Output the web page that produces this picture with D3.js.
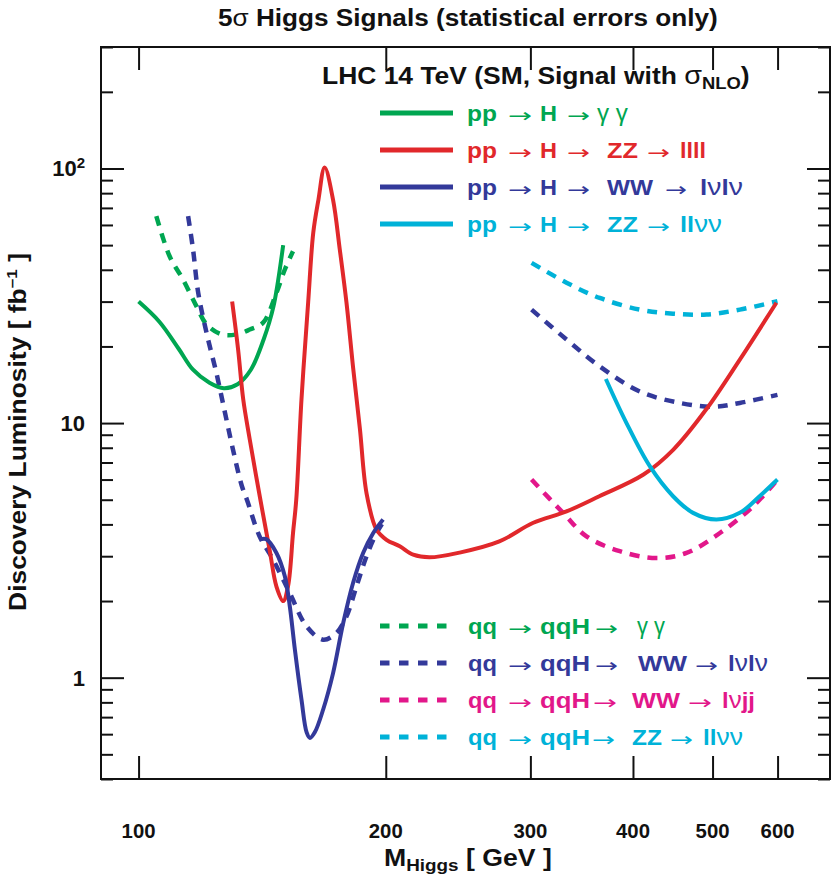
<!DOCTYPE html>
<html>
<head>
<meta charset="utf-8">
<script src="https://cdn.jsdelivr.net/npm/d3@7"></script>
<style>
  html,body{margin:0;padding:0;background:#fff;}
  svg{display:block;}
  svg{font-family:"Liberation Sans",Arial,Helvetica,sans-serif;}
</style>
</head>
<body>
<svg id="chart" width="831" height="879"></svg>
<script>
// ---------------- DATA ----------------
// [Higgs mass (GeV), discovery luminosity (fb^-1)]
const ppGammaGamma   = [[100,30],[106,25],[112,19.5],[116.5,16.2],[122,14.4],[127,13.7],[132,14.2],[137,16.2],[142,21.3],[146,28.8],[150,50]];
const ppZZ4l         = [[130,30],[132.2,19.4],[134.1,12.4],[136.6,8.6],[140.4,5.2],[144.4,3.18],[147.2,2.28],[150,2.0],[152.1,2.3],[154.2,3.7],[155.6,5.0],[157.9,12.4],[160.9,29.9],[163.2,55.9],[165.6,75.5],[168.5,101],[172.5,75.5],[175.8,48.1],[179.1,29.9],[182.5,16.5],[186,9.5],[189.5,5.3],[194.9,3.81],[200.4,3.48],[208,3.28],[216,3.04],[226,2.97],[246,3.1],[275,3.43],[302,4.05],[332,4.5],[364,5.16],[412,6.28],[448,7.87],[491,11.3],[540,17.8],[598,29.7]];
const ppWWlvlv       = [[141,3.5],[143,3.5],[147.2,3.09],[150.7,2.5],[152.8,1.91],[155,1.29],[157.9,0.82],[160.2,0.61],[161.7,0.58],[163.9,0.61],[167.8,0.75],[172.5,1.04],[177.5,1.64],[182.5,2.36],[187.7,3.09],[193.1,3.7],[198.5,4.18]];
const ppZZllvv       = [[370.7,14.9],[392.8,10.0],[419.3,6.77],[447.6,5.16],[473.4,4.44],[505.4,4.18],[539.7,4.44],[570.5,5.16],[599.8,6.0]];

const qqGammaGamma   = [[105.1,65],[109.1,45.2],[113.3,36.6],[117.6,28.8],[121,24.4],[126.2,22.3],[131.6,22.3],[136.6,23.3],[141.8,24.8],[147.2,32.5],[150.7,40.1],[154.2,47.3]];
const qqWWlvlvLow    = [[114.9,65],[116.5,48.1],[118.2,32.5],[121,22.6],[124.4,15.7],[127.4,11.0],[130.3,7.87],[133.5,5.7],[135.5,5.0],[140.4,3.59],[145.8,2.91],[152.8,2.15],[160.2,1.59],[167.8,1.41],[174.2,1.5],[179.1,1.74],[184.2,2.28],[189.5,3.0],[194.9,3.7],[199.5,4.18]];
const qqWWlvlvHigh   = [[301,27.9],[332,21.3],[364.4,16.7],[407.8,13.3],[456,12.0],[500.7,11.6],[539.7,12.0],[599.8,12.9]];
const qqWWlvjj       = [[301,6.0],[328.8,4.44],[351.1,3.59],[385.5,3.14],[427.2,2.95],[464.8,3.09],[510.4,3.7],[560.2,4.71],[599.8,6.0]];
const qqZZllvv       = [[301,42.6],[332,35.6],[364.4,31.0],[407.8,27.9],[447.6,26.9],[491.5,26.7],[539.7,27.9],[599.8,30.1]];

const xTickValues   = [100,200,300,400,500,600];
const yMajorValues  = [1,10,100];
const yMinorValues  = [0.4,0.5,0.6,0.7,0.8,0.9,2,3,4,5,6,7,8,9,20,30,40,50,60,70,80,90,200,300];

// legend entries: each token = list of [string, bold?]; "→" tokens are arrows
const legendSolidLabels = [
  [[["pp",1]],[["\u2192",0]],[["H",1]],[["\u2192",0]],[["\u03b3 \u03b3",0]]],
  [[["pp",1]],[["\u2192",0]],[["H",1]],[["\u2192",0]],[["ZZ",1]],[["\u2192",0]],[["llll",1]]],
  [[["pp",1]],[["\u2192",0]],[["H",1]],[["\u2192",0]],[["WW",1]],[["\u2192",0]],[["l",1],["\u03bd",0],["l",1],["\u03bd",0]]],
  [[["pp",1]],[["\u2192",0]],[["H",1]],[["\u2192",0]],[["ZZ",1]],[["\u2192",0]],[["ll",1],["\u03bd\u03bd",0]]]
];
const legendDashedLabels = [
  [[["qq",1]],[["\u2192",0]],[["qqH",1]],[["\u2192",0]],[["\u03b3 \u03b3",0]]],
  [[["qq",1]],[["\u2192",0]],[["qqH",1]],[["\u2192",0]],[["WW",1]],[["\u2192",0]],[["l",1],["\u03bd",0],["l",1],["\u03bd",0]]],
  [[["qq",1]],[["\u2192",0]],[["qqH",1]],[["\u2192",0]],[["WW",1]],[["\u2192",0]],[["l",1],["\u03bd",0],["jj",1]]],
  [[["qq",1]],[["\u2192",0]],[["qqH",1]],[["\u2192",0]],[["ZZ",1]],[["\u2192",0]],[["ll",1],["\u03bd\u03bd",0]]]
];

const COL = {green:"#00a651", red:"#e1282b", blue:"#33399a", cyan:"#00b2d8", magenta:"#e2178a"};

const solidSeries = [
  {data:ppGammaGamma, color:COL.green},
  {data:ppZZ4l, color:COL.red},
  {data:ppWWlvlv, color:COL.blue},
  {data:ppZZllvv, color:COL.cyan}
];
const dashedSeries = [
  {data:qqGammaGamma, color:COL.green},
  {data:qqWWlvlvLow, color:COL.blue},
  {data:qqWWlvlvHigh, color:COL.blue},
  {data:qqWWlvjj, color:COL.magenta},
  {data:qqZZllvv, color:COL.cyan}
];
const solidLegendColors  = [COL.green, COL.red, COL.blue, COL.cyan];
const dashedLegendColors = [COL.green, COL.blue, COL.magenta, COL.cyan];

// ---------------- LAYOUT ----------------
const svg = d3.select("#chart");
const L = 101, R = 830, T = 47, B = 779;

const x = d3.scaleLog().domain([90, 695]).range([L, R]);
const y = d3.scaleLog().domain([0.4, 300]).range([B, T]);

function fitWidth(sel, target, ax){
  const w = sel.node().getComputedTextLength();
  const s = target / w;
  sel.attr("transform", `translate(${ax},0) scale(${s},1) translate(${-ax},0)`);
}

// ---------------- AXES (ticks inward) ----------------
const axisG = svg.append("g");
axisG.append("g").attr("transform",`translate(${L},0)`)
  .call(d3.axisRight(y).tickValues(yMajorValues).tickSize(23).tickFormat(""));
axisG.append("g").attr("transform",`translate(${L},0)`)
  .call(d3.axisRight(y).tickValues(yMinorValues).tickSize(12).tickFormat(""));
axisG.append("g").attr("transform",`translate(${R},0)`)
  .call(d3.axisLeft(y).tickValues(yMajorValues).tickSize(23).tickFormat(""));
axisG.append("g").attr("transform",`translate(${R},0)`)
  .call(d3.axisLeft(y).tickValues(yMinorValues).tickSize(12).tickFormat(""));
axisG.append("g").attr("transform",`translate(0,${B})`)
  .call(d3.axisTop(x).tickValues(xTickValues).tickSize(23).tickFormat(""));
axisG.append("g").attr("transform",`translate(0,${T})`)
  .call(d3.axisBottom(x).tickValues(xTickValues).tickSize(23).tickFormat(""));
axisG.selectAll(".domain").remove();
axisG.selectAll(".tick line").attr("stroke","#111").attr("stroke-width",2);

svg.append("rect").attr("x",L).attr("y",T).attr("width",R-L).attr("height",B-T)
  .attr("fill","none").attr("stroke","#111").attr("stroke-width",2);

const FONT = "'Liberation Sans',Arial,Helvetica,sans-serif";

xTickValues.forEach(v=>{
  const t = svg.append("text").attr("x",x(v)).attr("y",838).attr("text-anchor","middle")
    .style("font-family",FONT).attr("font-size",21).attr("font-weight","bold").attr("fill","#111").text(v);
  fitWidth(t, 34, x(v));
});
[[1,"1"],[10,"10"]].forEach(([v,s])=>{
  svg.append("text").attr("x",85).attr("y",y(v)+8).attr("text-anchor","end")
    .style("font-family",FONT).attr("font-size",22).attr("font-weight","bold").attr("fill","#111").text(s);
});
{
  const t = svg.append("text").attr("x",85).attr("y",y(100)+8).attr("text-anchor","end")
    .style("font-family",FONT).attr("font-size",22).attr("font-weight","bold").attr("fill","#111");
  t.append("tspan").text("10");
  t.append("tspan").attr("font-size",15).attr("dy",-8).text("2");
}

// ---------------- CURVES ----------------
const line = d3.line().x(d=>x(d[0])).y(d=>y(d[1])).curve(d3.curveCatmullRom.alpha(0.5));
const curves = svg.append("g");
dashedSeries.forEach(s=>{
  curves.append("path").attr("d",line(s.data)).attr("fill","none")
    .attr("stroke",s.color).attr("stroke-width",4.5).attr("stroke-dasharray","10,8");
});
solidSeries.forEach(s=>{
  curves.append("path").attr("d",line(s.data)).attr("fill","none")
    .attr("stroke",s.color).attr("stroke-width",4).attr("stroke-linejoin","round");
});

// ---------------- TEXTS ----------------
{
  const t = svg.append("text").attr("x",218).attr("y",26).style("font-family",FONT).attr("font-size",24).attr("font-weight","bold").attr("fill","#111");
  t.append("tspan").text("5");
  t.append("tspan").attr("font-weight","normal").text("\u03c3");
  t.append("tspan").text(" Higgs Signals (statistical errors only)");
  fitWidth(t, 500, 218);
}
{
  const t = svg.append("text").attr("x",322).attr("y",84).style("font-family",FONT).attr("font-size",23).attr("font-weight","bold").attr("fill","#111");
  t.append("tspan").text("LHC 14 TeV (SM, Signal with ");
  t.append("tspan").attr("font-weight","normal").attr("font-size",25).text("\u03c3");
  t.append("tspan").attr("font-size",16).attr("dy",5).text("NLO");
  t.append("tspan").attr("dy",-5).text(")");
  fitWidth(t, 428, 322);
}
{
  const g = svg.append("g").attr("transform","translate(26,432) rotate(-90)");
  const t = g.append("text").attr("x",0).attr("y",0).attr("text-anchor","middle")
    .style("font-family",FONT).attr("font-size",23).attr("font-weight","bold").attr("fill","#111");
  t.append("tspan").text("Discovery Luminosity [ fb");
  t.append("tspan").attr("font-size",15).attr("dy",-9).text("\u20131");
  t.append("tspan").attr("dy",9).text(" ]");
  fitWidth(t, 358, 0);
}
{
  const t = svg.append("text").attr("x",384).attr("y",866).style("font-family",FONT).attr("font-size",24).attr("font-weight","bold").attr("fill","#111");
  t.append("tspan").text("M");
  t.append("tspan").attr("font-size",17).attr("dy",5).text("Higgs");
  t.append("tspan").attr("dy",-5).text(" [ GeV ]");
  fitWidth(t, 168, 384);
}

// ---------------- LEGENDS ----------------
const upperSpans = [
  [[467,497],[508,532],[540,557],[567,590],[597,628]],
  [[467,497],[508,532],[540,557],[567,590],[607,638],[647,670],[680,706]],
  [[467,497],[508,532],[540,557],[567,590],[607,653],[665,687],[700,743]],
  [[467,497],[508,532],[540,557],[567,590],[607,638],[647,670],[680,722]]
];
const lowerSpans = [
  [[468,497],[508,532],[540,590],[595,618],[637,665]],
  [[468,497],[508,532],[540,590],[595,618],[638,687],[695,718],[728,768]],
  [[468,497],[508,532],[540,590],[593,617],[632,680],[688,712],[722,755]],
  [[468,497],[508,532],[540,590],[592,615],[632,662],[670,693],[703,743]]
];
function legendRow(tokens, spans, color, baseY, dashed){
  svg.append("line").attr("x1",380).attr("x2",dashed?450:453)
    .attr("y1",baseY-8).attr("y2",baseY-8)
    .attr("stroke",color).attr("stroke-width",5)
    .attr("stroke-dasharray",dashed?"9.5,9.5":null);
  tokens.forEach((parts,i)=>{
    const [x0,x1] = spans[i];
    const isArrow = parts.length===1 && parts[0][0]==="\u2192";
    const t = svg.append("text").attr("x",x0).attr("y",baseY).attr("fill",color)
      .attr("font-size",22).attr("xml:space","preserve").style("white-space","pre");
    if(isArrow){
      t.style("font-family","'DejaVu Sans',sans-serif").attr("font-size",19).attr("y",baseY+1).text("\u2192");
    } else {
      t.style("font-family",FONT);
      parts.forEach(([s,b])=>{
        const ts = t.append("tspan").text(s);
        ts.attr("font-weight", b?"bold":"normal");
        if(!b) ts.attr("font-size",24);
      });
    }
    fitWidth(t, x1-x0, x0);
  });
}
[121,158,195,232].forEach((by,i)=>legendRow(legendSolidLabels[i], upperSpans[i], solidLegendColors[i], by, false));
[634,671,708,745].forEach((by,i)=>legendRow(legendDashedLabels[i], lowerSpans[i], dashedLegendColors[i], by, true));
</script>
</body>
</html>
